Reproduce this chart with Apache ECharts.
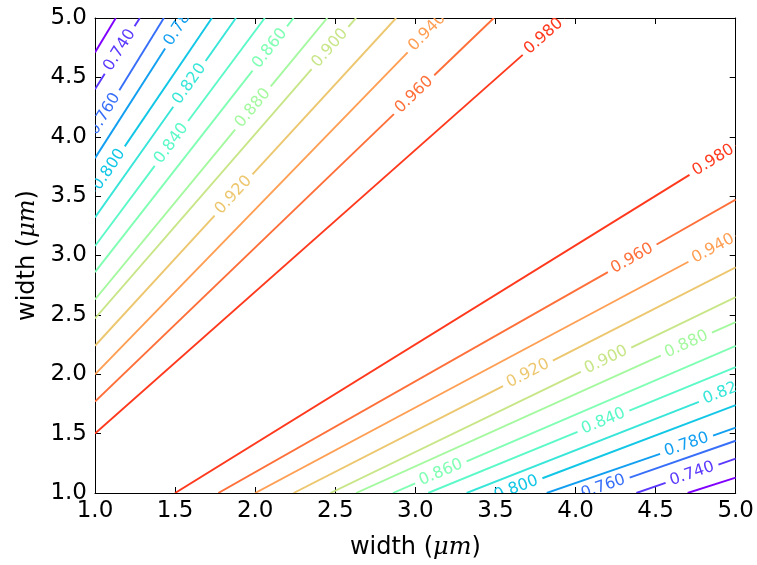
<!DOCTYPE html>
<html>
<head>
<meta charset="utf-8">
<script src="https://cdn.jsdelivr.net/npm/echarts@6/dist/echarts.min.js"></script>
<style>html,body{margin:0;padding:0;background:#fff}#c{width:757px;height:565px}</style>
</head>
<body>
<div id="c"></div>
<script>
// contour levels
const levels = [0.72,0.74,0.76,0.78,0.80,0.82,0.84,0.86,0.88,0.90,0.92,0.94,0.96,0.98];
// upper-left family: line from (1.0, upperLeftY) to (upperTopX, 5.0)
const upperLeftY = [4.71,4.40,4.06,3.82,3.55,3.32,3.08,2.86,2.63,2.47,2.24,2.00,1.77,1.50];
const upperTopX  = [1.13,1.28,1.43,1.56,1.73,1.88,2.06,2.24,2.45,2.63,2.88,3.16,3.49,3.93];
// lower-right family: line from (lowerBottomX, 1.0) to (5.0, lowerRightY)
const lowerBottomX = [4.70,4.38,4.06,3.82,3.55,3.32,3.08,2.86,2.63,2.47,2.24,2.00,1.77,1.50];
const lowerRightY  = [1.13,1.29,1.44,1.55,1.74,1.89,2.06,2.24,2.44,2.65,2.90,3.16,3.47,3.92];
// inline label position along each line (fraction), -1 = no label
const upperLabelAt = [-1,0.55,0.14,0.95,0.12,0.67,0.45,0.88,0.68,0.90,0.46,0.96,0.80,0.956];
const lowerLabelAt = [-1,0.56,0.12,0.74,0.055,0.96,0.57,0.14,0.87,0.68,0.53,0.953,0.80,0.96];
// tick labels
const xTickLabels = ['1.0','1.5','2.0','2.5','3.0','3.5','4.0','4.5','5.0'];
const yTickLabels = ['1.0','1.5','2.0','2.5','3.0','3.5','4.0','4.5','5.0'];

function rainbow(v){
  const x = (v - 0.72) / 0.28;
  const r = Math.min(1, Math.abs(2*x - 0.5));
  const g = Math.sin(Math.PI * x);
  const b = Math.cos(Math.PI * x / 2);
  const h = c => Math.round(Math.max(0,Math.min(1,c))*255).toString(16).padStart(2,'0');
  return '#' + h(r) + h(g) + h(b);
}

const data = [];
levels.forEach((lv,i)=>{
  data.push([1.0, upperLeftY[i], upperTopX[i], 5.0, i, upperLabelAt[i]]);
  data.push([lowerBottomX[i], 1.0, 5.0, lowerRightY[i], i, lowerLabelAt[i]]);
});

const FONT = '"DejaVu Sans", sans-serif';

function renderItem(params, api){
  const p0 = api.coord([api.value(0), api.value(1)]);
  const p1 = api.coord([api.value(2), api.value(3)]);
  const idx = api.value(4);
  const t = api.value(5);
  const color = rainbow(levels[idx]);
  const lw = 1.9;
  if (t < 0) {
    return {type:'line', shape:{x1:p0[0],y1:p0[1],x2:p1[0],y2:p1[1]}, style:{stroke:color, lineWidth:lw}};
  }
  const dx = p1[0]-p0[0], dy = p1[1]-p0[1];
  const len = Math.sqrt(dx*dx+dy*dy);
  const ux = dx/len, uy = dy/len;
  const cx = p0[0] + t*dx, cy = p0[1] + t*dy;
  const g = 28;
  const ang = Math.atan2(-dy, dx);
  return {
    type:'group',
    children:[
      {type:'line', shape:{x1:p0[0],y1:p0[1],x2:cx-ux*g,y2:cy-uy*g}, style:{stroke:color, lineWidth:lw}},
      {type:'line', shape:{x1:cx+ux*g,y1:cy+uy*g,x2:p1[0],y2:p1[1]}, style:{stroke:color, lineWidth:lw}},
      {type:'text', x:cx, y:cy, rotation:ang,
       style:{text:levels[idx].toFixed(3), fill:color, font:'16px ' + FONT, align:'center', verticalAlign:'middle'}}
    ]
  };
}

const nameRich = {
  a:{fontSize:24, fontFamily:FONT, color:'#000'},
  b:{fontSize:24, fontFamily:'"DejaVu Serif", serif', fontStyle:'italic', color:'#000'}
};
const axisCommon = {
  type:'value', min:1, max:5, interval:0.5,
  axisLine:{show:true, onZero:false, lineStyle:{color:'#000', width:1}},
  axisTick:{show:true, inside:true, length:6, lineStyle:{color:'#000', width:1}},
  splitLine:{show:false}
};

const chart = echarts.init(document.getElementById('c'), null, {renderer:'canvas'});
chart.setOption({
  animation:false,
  backgroundColor:'#fff',
  grid:{left:95, right:21, top:18, bottom:70, containLabel:false},
  xAxis:[
    Object.assign({}, axisCommon, {position:'bottom',
      axisLabel:{fontSize:23, color:'#000', fontFamily:FONT, margin:7,
        formatter:v=>xTickLabels[Math.round((v-1)/0.5)]},
      name:'{a|width (}{b|μm}{a|)}', nameLocation:'middle', nameGap:43,
      nameTextStyle:{rich:nameRich}}),
    Object.assign({}, axisCommon, {position:'top', axisLabel:{show:false}})
  ],
  yAxis:[
    Object.assign({}, axisCommon, {position:'left',
      axisLabel:{fontSize:23, color:'#000', fontFamily:FONT, margin:8,
        formatter:v=>yTickLabels[Math.round((v-1)/0.5)]},
      name:'{a|width (}{b|μm}{a|)}', nameLocation:'middle', nameGap:54,
      nameTextStyle:{rich:nameRich}}),
    Object.assign({}, axisCommon, {position:'right', axisLabel:{show:false}})
  ],
  series:[{
    type:'custom', renderItem:renderItem, clip:true,
    xAxisIndex:0, yAxisIndex:0,
    encode:{x:[0,2], y:[1,3]},
    data:data
  }]
});
</script>
</body>
</html>
